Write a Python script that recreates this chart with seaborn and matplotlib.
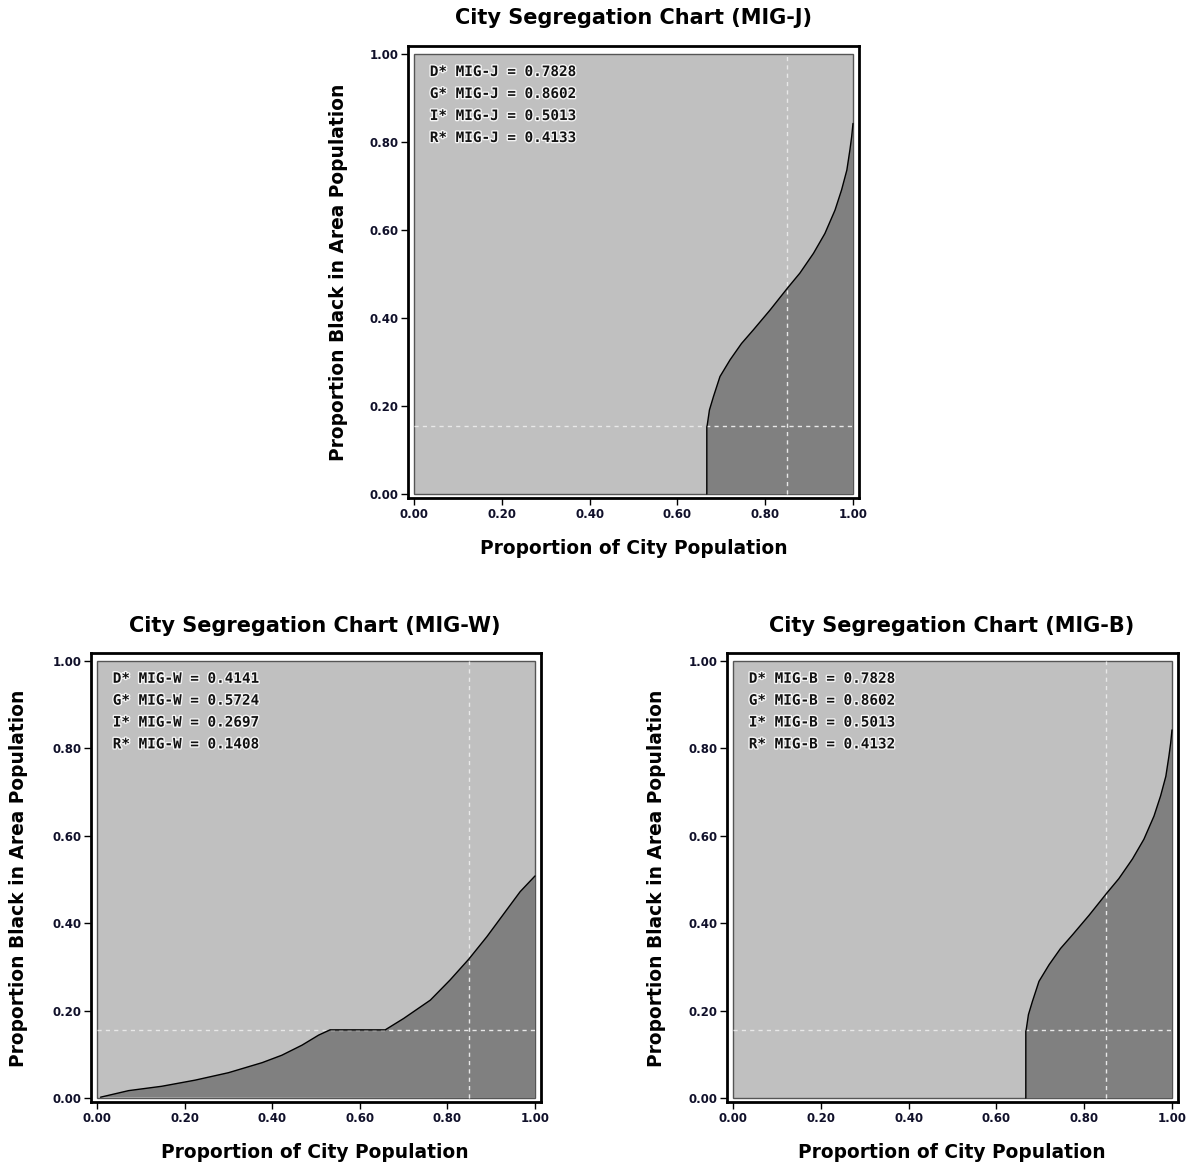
import numpy as np
import pandas as pd
import seaborn as sns
import matplotlib
matplotlib.use("Agg")
import matplotlib.pyplot as plt
from matplotlib.patches import Rectangle
import matplotlib.patheffects as pe

# ---------------- data ----------------
titles = ["City Segregation Chart (MIG-J)",
          "City Segregation Chart (MIG-W)",
          "City Segregation Chart (MIG-B)"]
labels = ["MIG-J", "MIG-W", "MIG-B"]

d_vals = [0.7828, 0.4141, 0.7828]
g_vals = [0.8602, 0.5724, 0.8602]
i_vals = [0.5013, 0.2697, 0.5013]
r_vals = [0.4133, 0.1408, 0.4132]

city_prop_black = 0.155   # horizontal reference line
ref_x = 0.85              # vertical reference line

mig_j_x = [0.667, 0.667, 0.668, 0.673, 0.682, 0.697, 0.720, 0.746, 0.773,
           0.811, 0.850, 0.879, 0.910, 0.936, 0.959, 0.974, 0.986, 0.993,
           0.997, 1.000, 1.000]
mig_j_y = [0.000, 0.153, 0.157, 0.191, 0.221, 0.267, 0.305, 0.342, 0.373,
           0.418, 0.467, 0.502, 0.547, 0.592, 0.645, 0.691, 0.736, 0.782,
           0.812, 0.842, 0.000]

mig_w_x = [0.008, 0.072, 0.148, 0.224, 0.300, 0.377, 0.422, 0.468,
           0.506, 0.532, 0.658, 0.700, 0.761, 0.806, 0.849, 0.890, 0.935,
           0.966, 1.000, 1.000]
mig_w_y = [0.002, 0.017, 0.027, 0.041, 0.058, 0.081, 0.098, 0.121,
           0.144, 0.156, 0.156, 0.182, 0.224, 0.270, 0.318, 0.369, 0.430,
           0.472, 0.508, 0.000]

mig_b_x = [0.667, 0.667, 0.668, 0.673, 0.682, 0.697, 0.720, 0.746, 0.773,
           0.811, 0.850, 0.879, 0.910, 0.936, 0.959, 0.974, 0.986, 0.993,
           0.997, 1.000, 1.000]
mig_b_y = [0.000, 0.153, 0.157, 0.191, 0.221, 0.267, 0.305, 0.342, 0.373,
           0.418, 0.467, 0.502, 0.547, 0.592, 0.645, 0.691, 0.736, 0.782,
           0.812, 0.842, 0.000]

tick_vals = [0.0, 0.2, 0.4, 0.6, 0.8, 1.0]
tick_labels = ["0.00", "0.20", "0.40", "0.60", "0.80", "1.00"]

# ---------------- style ----------------
sns.set_style("white")
plt.rcParams["font.family"] = ["DejaVu Sans"]

W, H = 1188, 1167
fig = plt.figure(figsize=(W / 100, H / 100), dpi=100)

LIGHT = "#c0c0c0"
DARK = "#808080"


def px_axes(left, top, right, bottom):
    return [left / W, 1 - bottom / H, (right - left) / W, (bottom - top) / H]


axes_boxes = [px_axes(408, 46, 859, 498),
              px_axes(91, 653, 541, 1102),
              px_axes(727, 653, 1178, 1102)]
title_pos = [(633.5, 18), (315, 626), (952, 626)]
xlabel_pos = [(633.5, 549), (315, 1152), (952, 1152)]
ylabel_pos = [(338, 272), (19, 878), (656, 878)]

curves = [(mig_j_x, mig_j_y), (mig_w_x, mig_w_y), (mig_b_x, mig_b_y)]

for k in range(3):
    ax = fig.add_axes(axes_boxes[k])
    ax.set_facecolor("white")
    ax.set_xlim(-0.0137, 1.0137)
    ax.set_ylim(-0.009, 1.018)

    # light background area
    ax.add_patch(Rectangle((0, 0), 1, 1, facecolor=LIGHT, edgecolor="#555555",
                           linewidth=1.0, zorder=0.5))

    cx, cy = curves[k]
    df = pd.DataFrame({"x": cx, "y": cy})
    ax.fill(df["x"], df["y"], color=DARK, linewidth=0, zorder=1)
    sns.lineplot(data=df.iloc[:-1], x="x", y="y", sort=False, estimator=None,
                 color="black", linewidth=1.0, ax=ax, zorder=3)

    # reference dashed lines
    ax.plot([0, 1], [city_prop_black, city_prop_black], color="#e8e8e8",
            linewidth=1.0, linestyle=(0, (3, 3)), zorder=2)
    ax.plot([ref_x, ref_x], [0, 1], color="#e8e8e8",
            linewidth=1.0, linestyle=(0, (3, 3)), zorder=2)

    # annotation text
    lines = [f"D* {labels[k]} = {d_vals[k]:.4f}",
             f"G* {labels[k]} = {g_vals[k]:.4f}",
             f"I* {labels[k]} = {i_vals[k]:.4f}",
             f"R* {labels[k]} = {r_vals[k]:.4f}"]
    for j, t in enumerate(lines):
        ax.text(0.036, 0.959 - j * 0.05, t, fontsize=10.3,
                family="DejaVu Sans Mono", fontweight="bold", color="#111111",
                va="center", ha="left", zorder=5,
                path_effects=[pe.withStroke(linewidth=2, foreground="#f4f4f4")])

    # ticks
    ax.set_xticks(tick_vals)
    ax.set_xticklabels(tick_labels)
    ax.set_yticks(tick_vals)
    ax.set_yticklabels(tick_labels)
    ax.tick_params(axis="both", which="both", direction="out", length=5,
                   width=1, color="black", labelsize=8.5, pad=2,
                   bottom=True, left=True, top=False, right=False)
    for lab in ax.get_xticklabels() + ax.get_yticklabels():
        lab.set_fontweight("bold")
        lab.set_color("#10102a")

    for sp in ax.spines.values():
        sp.set_visible(True)
        sp.set_color("black")
        sp.set_linewidth(2.0)

    ax.set_xlabel("")
    ax.set_ylabel("")

    tx, ty = title_pos[k]
    fig.text(tx / W, 1 - ty / H, titles[k], ha="center", va="center",
             fontsize=15, fontweight="bold", color="black")
    xx, xy = xlabel_pos[k]
    fig.text(xx / W, 1 - xy / H, "Proportion of City Population", ha="center",
             va="center", fontsize=13.4, fontweight="bold", color="black")
    yx, yy = ylabel_pos[k]
    fig.text(yx / W, 1 - yy / H, "Proportion Black in Area Population",
             ha="center", va="center", rotation=90, fontsize=13.4,
             fontweight="bold", color="black")

fig.savefig("out.png", dpi=100, facecolor="white")
